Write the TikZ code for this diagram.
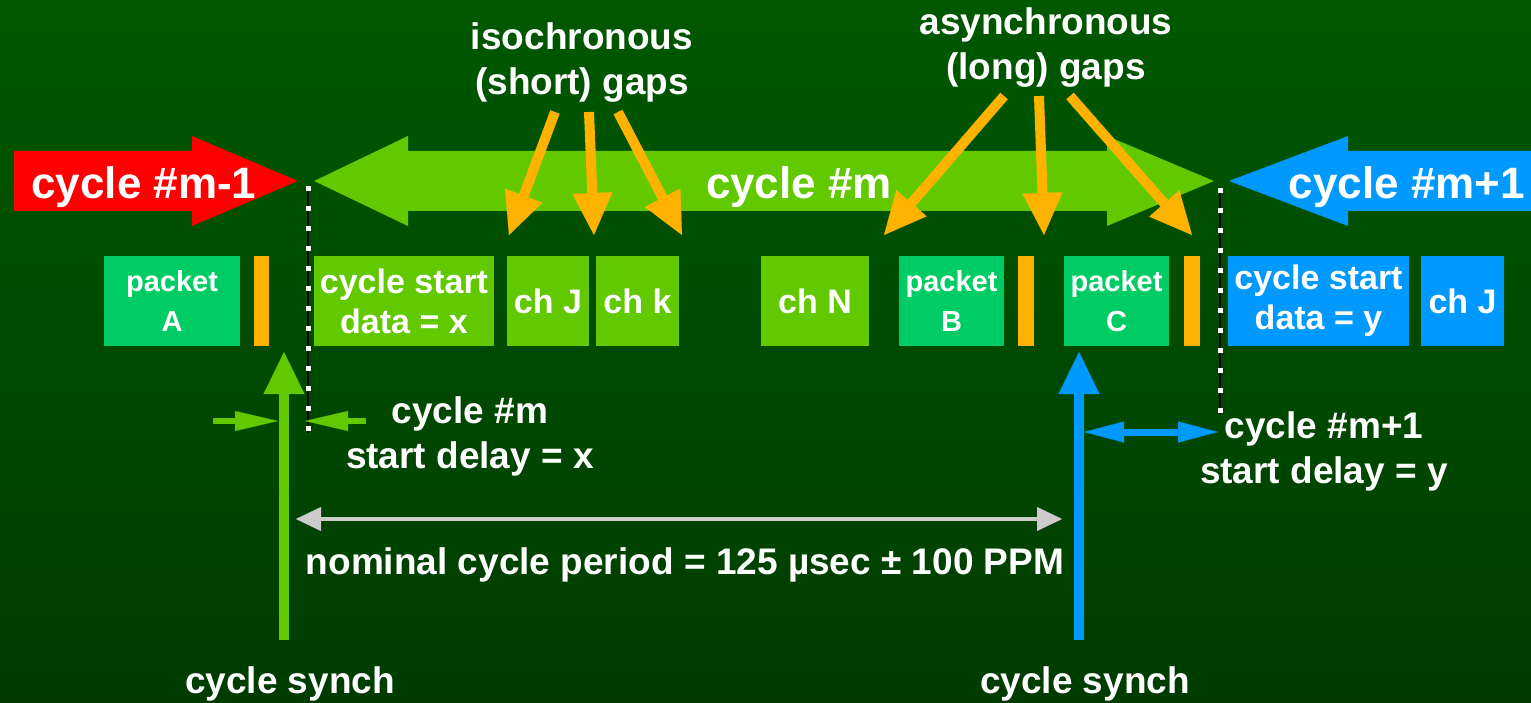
\documentclass[tikz,border=0pt]{standalone}
\usepackage{fontspec}
\setmainfont{Liberation Sans}
\usetikzlibrary{arrows.meta}
\definecolor{bgtop}{HTML}{005800}
\definecolor{bgbot}{HTML}{003C00}
\definecolor{cycred}{HTML}{FF0000}
\definecolor{cycgreen}{HTML}{62C800}
\definecolor{cycblue}{HTML}{0099FF}
\definecolor{pktgreen}{HTML}{00CC66}
\definecolor{gaporange}{HTML}{FFB300}
\definecolor{periodgray}{HTML}{CCCCCC}

\newcommand{\cyclefont}{\bfseries\fontsize{44}{50}\selectfont}
\newcommand{\notefont}{\bfseries\fontsize{37}{45}\selectfont}
\newcommand{\slotfont}{\bfseries\fontsize{34}{40}\selectfont}
\newcommand{\pktfont}{\bfseries\fontsize{29}{40}\selectfont}

\tikzset{
  slot/.style={minimum height=90pt, inner sep=0pt, text=white, align=center, font=\slotfont},
  pkt/.style={slot, fill=pktgreen, font=\pktfont},
  gapbar/.style={minimum height=90pt, minimum width=15pt, inner sep=0pt, fill=gaporange},
  lbl/.style={text=white, font=\notefont, align=center, anchor=base, inner sep=0pt},
  gaparrow/.style={gaporange, line width=10pt, -{Triangle[length=42pt,width=40pt,line width=0.1pt]}},
  syncharrow/.style={line width=10pt, -{Triangle[length=42pt,width=41pt,line width=0.1pt]}},
  delayarrow/.style={line width=6pt, -{Triangle[length=43pt,width=20pt,line width=0.1pt]}},
  boundary/.style={line width=2.5pt, black},
  boundarydots/.style={line width=5pt, white, dash pattern=on 5pt off 15pt},
}

\begin{document}
\begin{tikzpicture}[x=1pt, y=-1pt]
    % Background
    \useasboundingbox (0,0) rectangle (1531,703);
    \shade[top color=bgtop, bottom color=bgbot] (0,0) rectangle (1531,703);

    % Cycle arrows
    \fill[cycred] (14,151) -- (192,151) -- (192,136) -- (298,181) -- (192,226) -- (192,211) -- (14,211) -- cycle;
    \fill[cycgreen] (314,181) -- (408,136) -- (408,151) -- (1107,151) -- (1107,136) -- (1214,181)
        -- (1107,226) -- (1107,211) -- (408,211) -- (408,226) -- cycle;
    \fill[cycblue] (1229,181) -- (1348,136) -- (1348,151) -- (1531,151) -- (1531,211) -- (1348,211) -- (1348,226) -- cycle;
    \node[lbl, font=\cyclefont] (cycPrev) at (144,199) {cycle \#m-1};
    \node[lbl, font=\cyclefont] (cycCur) at (799,199) {cycle \#m};
    \node[lbl, font=\cyclefont] (cycNext) at (1407,199) {cycle \#m+1};

    % Slots
    \node[pkt, minimum width=136pt] (pktA) at (172,301) {packet\\A};
    \node[gapbar] (gapA) at (261.5,301) {};
    \node[slot, fill=cycgreen, minimum width=180pt] (startX) at (404,301) {cycle start\\data = x};
    \node[slot, fill=cycgreen, minimum width=82pt] (chJ) at (548,301) {ch J};
    \node[slot, fill=cycgreen, minimum width=83pt] (chK) at (637.5,301) {ch k};
    \node[slot, fill=cycgreen, minimum width=108pt] (chN) at (815,301) {ch N};
    \node[pkt, minimum width=105pt] (pktB) at (951.5,301) {packet\\B};
    \node[gapbar, minimum width=16pt] (gapB) at (1026,301) {};
    \node[pkt, minimum width=105pt] (pktC) at (1116.5,301) {packet\\C};
    \node[gapbar, minimum width=16pt] (gapC) at (1192,301) {};
    \node[slot, fill=cycblue, minimum width=181pt] (startY) at (1318.5,301) {cycle start\\data = y};
    \node[slot, fill=cycblue, minimum width=83pt] (chJnext) at (1462.5,301) {ch J};

    % Cycle boundaries
    \coordinate (bndLtop) at (308,186);
    \coordinate (bndLbot) at (308,433);
    \coordinate (bndRtop) at (1220,188);
    \coordinate (bndRbot) at (1220,414);
    \draw[boundary] (bndLtop) -- (bndLbot);
    \draw[boundarydots] (bndLtop) -- (bndLbot);
    \draw[boundary] (bndRtop) -- (bndRbot);
    \draw[boundarydots] (bndRtop) -- (bndRbot);

    % Gap pointers
    \node[lbl] (isoGaps) at (582,95) {isochronous\\(short) gaps};
    \node[lbl] (asyncGaps) at (1046,80) {asynchronous\\(long) gaps};
    \foreach \s/\t [count=\i] in {555/509, 589/594, 618/682} {
        \coordinate (isoFrom\i) at (\s,112);
        \coordinate (isoTo\i) at (\t,235);
        \draw[gaparrow] (isoFrom\i) -- (isoTo\i);
    }
    \foreach \s/\t [count=\i] in {1004/884, 1039/1044, 1070/1192} {
        \coordinate (asyncFrom\i) at (\s,96);
        \coordinate (asyncTo\i) at (\t,235);
        \draw[gaparrow] (asyncFrom\i) -- (asyncTo\i);
    }

    % Cycle synch
    \coordinate (synchLbot) at (284,640);
    \coordinate (synchLtop) at (284,352);
    \coordinate (synchRbot) at (1079,640);
    \coordinate (synchRtop) at (1079,352);
    \draw[syncharrow, cycgreen] (synchLbot) -- (synchLtop);
    \draw[syncharrow, cycblue] (synchRbot) -- (synchRtop);
    \node[lbl] (synchL) at (290,693) {cycle synch};
    \node[lbl] (synchR) at (1085,693) {cycle synch};

    % Start delays
    \coordinate (delayXa) at (213,421);
    \coordinate (delayXb) at (278,421);
    \coordinate (delayXc) at (366,421);
    \coordinate (delayXd) at (305,421);
    \draw[delayarrow, cycgreen] (delayXa) -- (delayXb);
    \draw[delayarrow, cycgreen] (delayXc) -- (delayXd);
    \node[lbl] (delayX) at (470,468) {cycle \#m\\start delay = x};
    \coordinate (delayYa) at (1084,432);
    \coordinate (delayYb) at (1218,432);
    \draw[cycblue, line width=7pt, {Triangle[length=40pt,width=21pt,line width=0.1pt]}-{Triangle[length=40pt,width=21pt,line width=0.1pt]}]
        (delayYa) -- (delayYb);
    \node[lbl] (delayY) at (1324,483) {cycle \#m+1\\start delay = y};

    % Nominal period
    \coordinate (periodL) at (296,519);
    \coordinate (periodR) at (1062,519);
    \draw[periodgray, line width=4.5pt, {Triangle[length=25pt,width=24pt,line width=0.1pt]}-{Triangle[length=25pt,width=24pt,line width=0.1pt]}]
        (periodL) -- (periodR);
    \node[lbl] (period) at (685,574) {nominal cycle period = 125 µsec ± 100 PPM};
\end{tikzpicture}
\end{document}
